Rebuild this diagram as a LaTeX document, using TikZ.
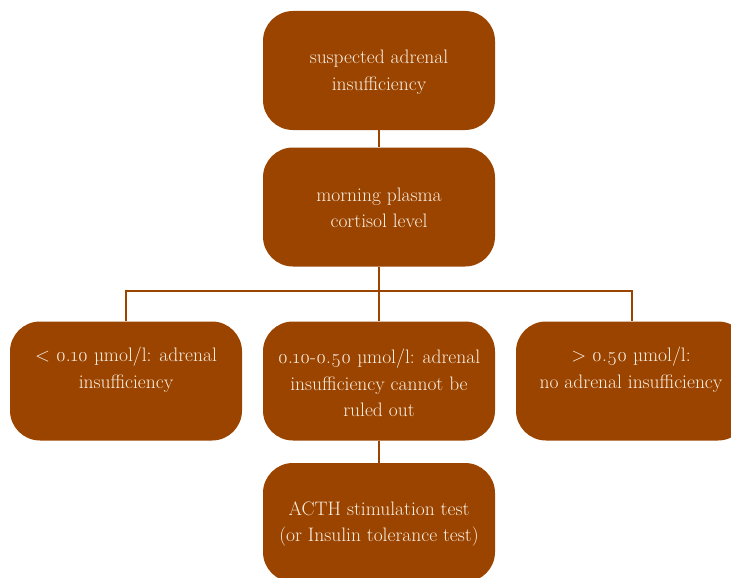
\documentclass[tikz,border=0pt]{standalone}
\usepackage{fontspec}
\setmainfont{Latin Modern Roman}[Numbers=OldStyle]
\definecolor{boxbrown}{HTML}{9A4400}
\definecolor{boxtext}{HTML}{FAEEE2}
\begin{document}
\begin{tikzpicture}[x=1pt,y=-1pt,
  box/.style={draw=none,fill=boxbrown,rounded corners=30pt,minimum width=232pt,minimum height=119pt,inner sep=0pt},
  lbl/.style={text=boxtext,align=center,font=\fontsize{19.5}{26.5}\selectfont,inner sep=0pt},
  conn/.style={draw=boxbrown,line width=1.6pt}]
\useasboundingbox (0,0) rectangle (731,578);
\node[box] (top) at (379,70.5) {};
\node[lbl] (ttop) at (379,72) {suspected adrenal\\insufficiency};
\node[box] (mid) at (379,207) {};
\node[lbl] (tmid) at (379,208) {morning plasma\\cortisol level};
\node[box] (l) at (126,381) {};
\node[lbl] (tl) at (126,369.5) {< 0.10 µmol/l: adrenal\\insufficiency};
\node[box] (m) at (379,381) {};
\node[lbl] (tm) at (379,383) {0.10-0.50 µmol/l: adrenal\\insufficiency cannot be\\ruled out};
\node[box] (r) at (632,381) {};
\node[lbl] (tr) at (631,369.5) {> 0.50 µmol/l:\\no adrenal insufficiency};
\node[box] (b) at (379,522.5) {};
\node[lbl] (tb) at (379,524) {ACTH stimulation test\\(or Insulin tolerance test)};
\coordinate (j) at (378,291);
\draw[conn] (top.south) -- (mid.north);
\draw[conn] (mid.south) -- (m.north);
\draw[conn] (l.north) -- (l.north |- j) -- (r.north |- j) -- (r.north);
\draw[conn] (m.south) -- (b.north);
\end{tikzpicture}
\end{document}
